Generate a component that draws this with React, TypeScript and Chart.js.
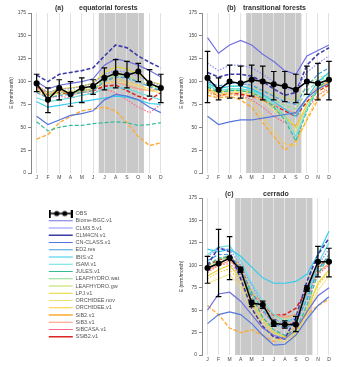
import React, { useEffect, useRef } from 'react';
import { Chart, registerables } from 'chart.js';

Chart.register(...registerables);

// ---------- data ----------
const months = ['J', 'F', 'M', 'A', 'M', 'J', 'J', 'A', 'S', 'O', 'N', 'D'];
const yTickValues = [0, 25, 50, 75, 100, 125, 150, 175];
const yAxisTitle = 'E (mm/month)';

const obsName = 'OBS';
const modelNames = [
  'Biome-BGC.v1', 'CLM3.5.v1', 'CLM4CN.v1', 'CN-CLASS.v1', 'ED2.res',
  'IBIS.v2', 'ISAM.v1', 'JULES.v1', 'LEAFHYDRO.wat', 'LEAFHYDRO.gw',
  'LPJ.v1', 'ORCHIDEE.nov', 'ORCHIDEE.v1', 'SiB2.v1', 'SiB3.v1',
  'SiBCASA.v1', 'SSiB2.v1',
];

// (a) equatorial forests, dry season Jul–Oct
const eqTitle = 'equatorial forests';
const eqDryMonths = [6, 9];
const eqObs = [98, 80, 93, 86, 93, 95, 104, 109, 107, 111, 98, 93];
const eqObsLow = [89, 66, 80, 73, 77, 86, 91, 93, 93, 100, 84, 77];
const eqObsHigh = [108, 93, 102, 100, 104, 102, 115, 124, 122, 120, 113, 108];
const eqModels = [
  [100, 92, 96, 98, 100, 103, 118, 125, 122, 118, 112, 105],
  [95, 88, 92, 92, 95, 98, 108, 112, 110, 106, 100, 96],
  [107, 100, 108, 110, 112, 115, 128, 140, 137, 128, 121, 115],
  [62, 53, 58, 63, 65, 68, 80, 86, 84, 80, 72, 66],
  [88, 82, 85, 86, 88, 90, 100, 105, 104, 100, 94, 90],
  [78, 72, 74, 76, 78, 80, 82, 84, 83, 80, 76, 75],
  [82, 78, 80, 82, 85, 87, 92, 94, 92, 88, 84, 80],
  [56, 46, 50, 52, 52, 54, 55, 56, 55, 52, 53, 55],
  [90, 85, 88, 88, 90, 92, 102, 106, 104, 100, 95, 92],
  [92, 86, 90, 90, 92, 94, 104, 108, 106, 102, 96, 93],
  [96, 88, 92, 93, 95, 98, 110, 116, 114, 108, 100, 97],
  [88, 82, 86, 86, 88, 90, 98, 100, 98, 95, 90, 88],
  [90, 84, 88, 88, 90, 92, 100, 104, 100, 96, 92, 90],
  [37, 42, 55, 62, 68, 70, 72, 68, 55, 40, 30, 33],
  [92, 86, 90, 88, 90, 92, 98, 100, 96, 92, 90, 92],
  [90, 82, 84, 82, 85, 88, 92, 88, 80, 72, 66, 75],
  [95, 85, 88, 86, 88, 90, 95, 96, 90, 84, 80, 88],
];

// (b) transitional forests, dry season May–Aug
const trTitle = 'transitional forests';
const trDryMonths = [4, 8];
const trObs = [104, 91, 100, 98, 102, 100, 97, 95, 91, 100, 98, 102];
const trObsLow = [77, 80, 82, 82, 84, 80, 80, 78, 77, 86, 80, 80];
const trObsHigh = [133, 104, 118, 117, 118, 117, 111, 111, 108, 117, 120, 122];
const trModels = [
  [148, 131, 140, 145, 140, 130, 122, 112, 108, 128, 134, 140],
  [120, 112, 118, 118, 115, 108, 100, 92, 90, 110, 120, 128],
  [110, 105, 108, 108, 106, 100, 92, 85, 88, 118, 130, 137],
  [62, 53, 56, 58, 58, 60, 62, 64, 66, 82, 92, 98],
  [100, 95, 98, 98, 96, 90, 84, 78, 75, 95, 108, 115],
  [98, 92, 95, 95, 92, 86, 78, 70, 62, 82, 100, 110],
  [96, 90, 92, 92, 90, 84, 75, 62, 40, 70, 95, 105],
  [94, 88, 90, 90, 88, 82, 72, 58, 35, 68, 92, 104],
  [95, 90, 92, 92, 90, 86, 80, 74, 70, 90, 100, 106],
  [98, 92, 95, 95, 93, 90, 86, 82, 80, 95, 104, 108],
  [92, 88, 90, 90, 88, 82, 72, 62, 50, 75, 92, 100],
  [90, 86, 88, 88, 85, 78, 68, 58, 45, 72, 90, 98],
  [88, 84, 86, 84, 78, 62, 45, 32, 30, 60, 85, 95],
  [85, 82, 84, 80, 72, 55, 40, 25, 35, 58, 80, 90],
  [90, 86, 88, 88, 85, 80, 75, 70, 65, 82, 95, 100],
  [88, 84, 86, 85, 80, 72, 62, 55, 52, 70, 85, 92],
  [92, 84, 88, 86, 84, 80, 74, 68, 62, 78, 90, 96],
];

// (c) cerrado, dry season Apr–Oct
const ceTitle = 'cerrado';
const ceDryMonths = [3, 9];
const ceObs = [97, 102, 108, 95, 58, 56, 35, 34, 34, 74, 104, 104];
const ceObsLow = [80, 65, 84, 92, 54, 52, 32, 30, 26, 71, 87, 87];
const ceObsHigh = [110, 140, 132, 98, 61, 60, 39, 38, 43, 77, 121, 119];
const ceModels = [
  [50, 68, 70, 60, 45, 30, 22, 18, 28, 48, 66, 75],
  [110, 118, 118, 100, 78, 55, 40, 35, 42, 70, 100, 118],
  [100, 120, 115, 85, 52, 32, 20, 18, 42, 82, 112, 130],
  [35, 45, 48, 45, 35, 22, 11, 12, 22, 40, 55, 65],
  [105, 112, 112, 95, 70, 50, 35, 30, 35, 62, 95, 112],
  [118, 115, 118, 110, 98, 86, 80, 80, 82, 90, 112, 138],
  [112, 120, 122, 105, 80, 60, 45, 38, 40, 65, 102, 125],
  [100, 108, 110, 92, 65, 42, 28, 22, 28, 55, 90, 110],
  [95, 105, 110, 95, 68, 50, 38, 35, 40, 65, 95, 108],
  [98, 106, 112, 98, 72, 55, 42, 40, 45, 70, 98, 110],
  [88, 95, 100, 85, 60, 40, 25, 20, 25, 50, 80, 95],
  [80, 85, 90, 75, 50, 30, 18, 15, 20, 45, 72, 88],
  [85, 92, 96, 80, 55, 35, 22, 18, 22, 48, 78, 92],
  [55, 45, 30, 25, 28, 22, 15, 20, 32, 45, 55, 62],
  [95, 100, 105, 95, 68, 58, 45, 42, 45, 68, 92, 102],
  [92, 100, 102, 90, 62, 48, 36, 32, 38, 62, 90, 100],
  [100, 106, 110, 98, 68, 58, 44, 45, 52, 72, 98, 108],
];

// ---------- styles ----------
const modelColors = [
  '#7070e0', '#8c8cff', '#3a3aa8', '#5577dd', '#3fa0e0',
  '#33ccee', '#66e0e0', '#33bb99', '#88dd88', '#bbdd55',
  '#e6d630', '#f0e070', '#ffcc33', '#ffaa33', '#ff9977',
  '#ff6688', '#dd2222',
];
const DOT = [1.5, 1.5];
const DASH = [4, 2];
const SOLID: number[] = [];
const modelDashes = [
  SOLID, DOT, DASH, SOLID, DASH,
  SOLID, SOLID, DASH, DASH, DOT,
  SOLID, SOLID, DOT, DASH, SOLID,
  DOT, DASH,
];
const modelWidths = [
  1.2, 1.2, 1.6, 1.2, 1.2,
  1.2, 1.2, 1.2, 1.2, 1.2,
  1.2, 1.0, 1.2, 1.4, 1.2,
  1.2, 1.6,
];

const FONT = 'Liberation Sans, Arial, sans-serif';

function makeDatasets(obs: number[], models: number[][]) {
  const ds: any[] = [
    {
      label: obsName,
      data: obs,
      borderColor: '#000',
      backgroundColor: '#000',
      borderWidth: 1.5,
      pointRadius: 2.3,
      pointBackgroundColor: '#000',
      pointBorderColor: '#000',
    },
  ];
  models.forEach((vals, i) => {
    ds.push({
      label: modelNames[i],
      data: vals,
      borderColor: modelColors[i],
      backgroundColor: modelColors[i],
      borderDash: modelDashes[i],
      borderWidth: modelWidths[i],
      pointRadius: 0,
    });
  });
  return ds;
}

type PanelProps = {
  left: number;
  top: number;
  width: number;
  height: number;
  padTop: number;
  yWidth: number;
  xHeight: number;
  obs: number[];
  low: number[];
  high: number[];
  models: number[][];
  dry: number[];
};

function Panel(p: PanelProps) {
  const ref = useRef<HTMLCanvasElement>(null);
  useEffect(() => {
    if (!ref.current) return;
    const shade = {
      id: 'dryShade',
      beforeDraw(chart: any) {
        const x = chart.scales.x;
        const a = chart.chartArea;
        if (!x || !a) return;
        const step = x.getPixelForValue(1) - x.getPixelForValue(0);
        const x0 = x.getPixelForValue(p.dry[0]) - step / 2;
        const x1 = x.getPixelForValue(p.dry[1]) + step / 2;
        const ctx = chart.ctx;
        ctx.save();
        ctx.fillStyle = '#c9c9c9';
        ctx.fillRect(x0, a.top, x1 - x0, a.bottom - a.top);
        ctx.restore();
      },
    };
    const errbars = {
      id: 'errbars',
      afterDatasetsDraw(chart: any) {
        const x = chart.scales.x;
        const y = chart.scales.y;
        const ctx = chart.ctx;
        ctx.save();
        ctx.strokeStyle = '#000';
        ctx.lineWidth = 1.2;
        for (let i = 0; i < p.low.length; i++) {
          const px = x.getPixelForValue(i);
          const yl = y.getPixelForValue(p.low[i]);
          const yh = y.getPixelForValue(p.high[i]);
          ctx.beginPath();
          ctx.moveTo(px, yl);
          ctx.lineTo(px, yh);
          ctx.moveTo(px - 2.8, yl);
          ctx.lineTo(px + 2.8, yl);
          ctx.moveTo(px - 2.8, yh);
          ctx.lineTo(px + 2.8, yh);
          ctx.stroke();
        }
        ctx.restore();
      },
    };
    const chart = new Chart(ref.current, {
      type: 'line',
      data: { labels: months, datasets: makeDatasets(p.obs, p.models) },
      plugins: [shade, errbars],
      options: {
        animation: false,
        responsive: false,
        devicePixelRatio: 1,
        layout: { padding: { top: p.padTop, left: 0, right: 0, bottom: 0 } },
        plugins: { legend: { display: false }, tooltip: { enabled: false } },
        elements: { line: { tension: 0 } },
        scales: {
          x: {
            type: 'category',
            offset: true,
            grid: { color: '#e2e2e2', lineWidth: 1, drawTicks: false },
            border: { display: false },
            ticks: {
              autoSkip: false,
              maxRotation: 0,
              padding: 2,
              color: '#444',
              font: { size: 5, family: FONT },
            },
            afterFit: (s: any) => {
              s.height = p.xHeight;
            },
          },
          y: {
            min: 0,
            max: 175,
            afterBuildTicks: (s: any) => {
              s.ticks = yTickValues.map((v) => ({ value: v }));
            },
            grid: { drawOnChartArea: false, tickLength: 3, color: '#888' },
            border: { color: '#888' },
            ticks: { padding: 2, color: '#444', font: { size: 5, family: FONT } },
            title: {
              display: true,
              text: yAxisTitle,
              color: '#333',
              font: { size: 5, family: FONT },
              padding: { top: 9, bottom: 0 },
            },
            afterFit: (s: any) => {
              s.width = p.yWidth;
            },
          },
        },
      },
    });
    return () => chart.destroy();
  }, []);
  return (
    <div style={{ position: 'absolute', left: p.left, top: p.top, width: p.width, height: p.height }}>
      <canvas ref={ref} width={p.width} height={p.height} style={{ display: 'block' }} />
    </div>
  );
}

function obsSymbol() {
  const c = document.createElement('canvas');
  c.width = 24;
  c.height = 8;
  const ctx = c.getContext('2d')!;
  ctx.fillStyle = '#000';
  ctx.strokeStyle = '#000';
  ctx.lineWidth = 1.5;
  ctx.beginPath();
  ctx.moveTo(1, 4);
  ctx.lineTo(23, 4);
  ctx.stroke();
  ctx.fillRect(0, 0, 2, 8);
  ctx.fillRect(22, 0, 2, 8);
  ctx.beginPath();
  ctx.arc(8, 4, 2.6, 0, Math.PI * 2);
  ctx.fill();
  ctx.beginPath();
  ctx.arc(16, 4, 2.6, 0, Math.PI * 2);
  ctx.fill();
  return c;
}

function Legend() {
  const ref = useRef<HTMLCanvasElement>(null);
  useEffect(() => {
    if (!ref.current) return;
    const ds: any[] = [
      {
        label: obsName,
        data: [null],
        borderColor: '#000',
        borderWidth: 1.5,
        pointStyle: obsSymbol(),
      },
    ];
    modelNames.forEach((n, i) => {
      ds.push({
        label: n,
        data: [null],
        borderColor: modelColors[i],
        backgroundColor: modelColors[i],
        borderDash: modelDashes[i],
        borderWidth: modelWidths[i],
        pointStyle: 'line',
      });
    });
    const chart = new Chart(ref.current, {
      type: 'line',
      data: { labels: [''], datasets: ds },
      options: {
        animation: false,
        responsive: false,
        devicePixelRatio: 1,
        layout: { padding: 0 },
        scales: { x: { display: false }, y: { display: false } },
        plugins: {
          tooltip: { enabled: false },
          legend: {
            position: 'left',
            align: 'start',
            maxWidth: 110,
            labels: {
              usePointStyle: true,
              pointStyleWidth: 24,
              boxHeight: 5,
              padding: 1.75,
              color: '#555',
              font: { size: 5.5, family: FONT, lineHeight: 1.1 },
            },
          },
        },
      },
    });
    return () => chart.destroy();
  }, []);
  return (
    <div style={{ position: 'absolute', left: 47, top: 209, width: 120, height: 150 }}>
      <canvas ref={ref} width={120} height={150} style={{ display: 'block' }} />
    </div>
  );
}

function Title({ x, tx, y, tag, text }: { x: number; tx: number; y: number; tag: string; text: string }) {
  const st: React.CSSProperties = {
    position: 'absolute',
    top: y - 5,
    fontFamily: FONT,
    fontSize: 7,
    fontWeight: 'bold',
    color: '#333',
    whiteSpace: 'nowrap',
    lineHeight: '10px',
  };
  return (
    <>
      <div style={{ ...st, left: x }}>{tag}</div>
      <div style={{ ...st, left: tx }}>{text}</div>
    </>
  );
}

export default function App() {
  useEffect(() => {
    document.body.style.margin = '0';
  }, []);
  return (
    <div style={{ position: 'relative', width: 340, height: 367, background: '#fff', overflow: 'hidden' }}>
      <Panel left={0} top={0} width={172} height={182} padTop={13} yWidth={31} xHeight={9}
        obs={eqObs} low={eqObsLow} high={eqObsHigh} models={eqModels} dry={eqDryMonths} />
      <Panel left={170} top={0} width={170} height={182} padTop={13} yWidth={32} xHeight={9}
        obs={trObs} low={trObsLow} high={trObsHigh} models={trModels} dry={trDryMonths} />
      <Panel left={170} top={180} width={170} height={187} padTop={18} yWidth={32} xHeight={12}
        obs={ceObs} low={ceObsLow} high={ceObsHigh} models={ceModels} dry={ceDryMonths} />
      <Legend />
      <Title x={55} tx={79} y={8} tag="(a)" text={eqTitle} />
      <Title x={227} tx={243} y={8} tag="(b)" text={trTitle} />
      <Title x={225} tx={263} y={194} tag="(c)" text={ceTitle} />
    </div>
  );
}
